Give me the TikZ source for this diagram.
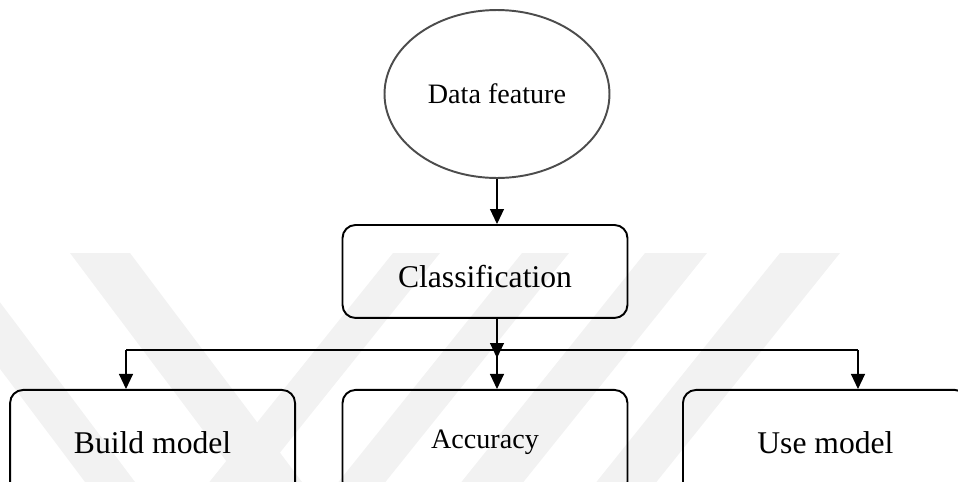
\documentclass[tikz,border=0pt]{standalone}
\usepackage{fontspec}
\setmainfont{Liberation Serif}
\usepackage{tikz}
\usetikzlibrary{arrows.meta,shapes.geometric}

\begin{document}
\begin{tikzpicture}[x=0.02cm, y=-0.02cm,
		box/.style={draw, rectangle, rounded corners=0.26cm, line width=1.1pt, minimum width=5.7cm, minimum height=2.1cm, font=\fontsize{18}{20}\selectfont},
		conn/.style={line width=0.6pt},
		tip/.style={-{Triangle[length=0.3cm, width=0.28cm]}}]
		\useasboundingbox (0,0) rectangle (958,481);
		
		% faint watermark bands
		\begin{scope}
		\clip (0,0) rectangle (958,481);
		\fill[black!5] (70,253) -- (130,253) -- (308,490) -- (248,490) -- cycle;
		\fill[black!5] (-87,253) -- (-37,253) -- (141,490) -- (91,490) -- cycle;
		\fill[black!5] (393,253) -- (440,253) -- (250,490) -- (203,490) -- cycle;
		\fill[black!5] (522,253) -- (569,253) -- (379,490) -- (332,490) -- cycle;
		\fill[black!5] (645,253) -- (707,253) -- (517,490) -- (455,490) -- cycle;
		\fill[black!5] (780,253) -- (840,253) -- (650,490) -- (590,490) -- cycle;
		\end{scope}
		
		\node[draw=black!70, ellipse, line width=1.1pt, minimum width=4.5cm, minimum height=3.36cm, inner sep=0pt, font=\fontsize{16}{18}\selectfont](D1) at (497,94){Data feature};
		
		\node[box, below of=D1, node distance=3.55cm, xshift=-0.24cm, minimum height=1.86cm, text height=0.7cm, text depth=0.05cm](C1){Classification};
		
		\node[box, below of=C1, node distance=3.42cm, font=\fontsize{16}{18}\selectfont](M2){Accuracy};
		\node[box, left of=M2, node distance=6.65cm](M1){Build model};
		\node[box, right of=M2, node distance=6.81cm](M3){Use model};
		
		\coordinate (J) at (497,350);
		\coordinate (L1) at (126,350);
		\coordinate (R1) at (858,350);
		
		\draw[conn, tip] (D1.south) -- (D1.south |- C1.north);
		\draw[conn, tip, shorten >=-0.16cm] (J |- C1.south) -- (J);
		\draw[conn] (L1) -- (R1);
		\draw[conn, tip] (J) -- (J |- M2.north);
		\draw[conn, tip] (L1) -- (L1 |- M1.north);
		\draw[conn, tip] (R1) -- (R1 |- M3.north);
		\end{tikzpicture}
\end{document}
